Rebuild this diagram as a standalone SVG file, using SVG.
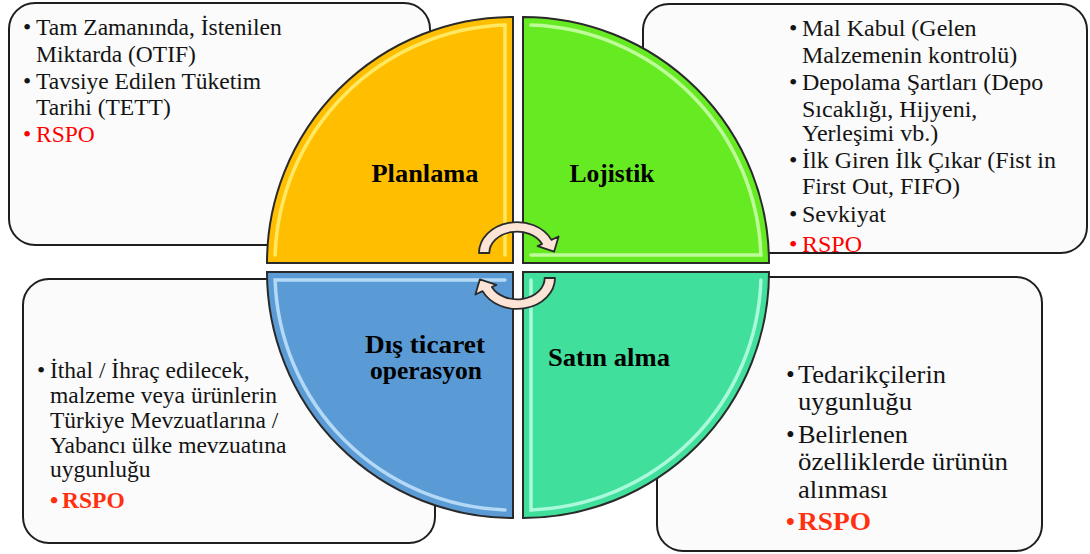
<svg xmlns="http://www.w3.org/2000/svg" width="1090" height="554" viewBox="0 0 1090 554">
<style>
.box{fill:#fbfbfb;stroke:#1e1e1e;stroke-width:2}
.q{stroke:#2a2a2a;stroke-width:2}
.hl{fill:none;stroke-width:3.5;opacity:0.8;stroke-linecap:round}
text{font-family:'Liberation Serif','DejaVu Serif',serif}
.t{font-size:23.5px;fill:#141414}
.t2{font-size:24px;fill:#141414}
.tb{font-size:25px;fill:#141414}
.red{fill:#ff0000}
.red2{fill:#ff3010;font-weight:bold}
.title{font-size:25px;font-weight:bold;fill:#000;text-anchor:middle}
.arr{fill:#fce4d6;stroke:#2a2a2a;stroke-width:1.8;stroke-linejoin:round}
</style>
<rect width="1090" height="554" fill="#ffffff"/>

<g id="box-planlama">
<rect class="box" x="9" y="3" width="421" height="242" rx="26"/>
<text class="t" x="23" y="35">•</text><text class="t" x="36" y="35">Tam Zamanında, İstenilen</text>
<text class="t" x="36" y="62">Miktarda (OTIF)</text>
<text class="t" x="23" y="89">•</text><text class="t" x="36" y="89">Tavsiye Edilen Tüketim</text>
<text class="t" x="36" y="115">Tarihi (TETT)</text>
<text class="t red" x="23" y="142">•</text><text class="t red" x="36" y="142">RSPO</text>
</g>

<g id="box-lojistik">
<rect class="box" x="643" y="4" width="444" height="249" rx="26"/>
<text class="t2" x="789" y="36">•</text><text class="t2" x="802" y="36">Mal Kabul (Gelen</text>
<text class="t2" x="802" y="63">Malzemenin kontrolü)</text>
<text class="t2" x="789" y="90">•</text><text class="t2" x="802" y="90">Depolama Şartları (Depo</text>
<text class="t2" x="802" y="117">Sıcaklığı, Hijyeni,</text>
<text class="t2" x="802" y="141">Yerleşimi vb.)</text>
<text class="t2" x="789" y="168">•</text><text class="t2" x="802" y="168">İlk Giren İlk Çıkar (Fist in</text>
<text class="t2" x="802" y="194">First Out, FIFO)</text>
<text class="t2" x="789" y="222">•</text><text class="t2" x="802" y="222">Sevkiyat</text>
<text class="t2 red" x="789" y="252">•</text><text class="t2 red" x="802" y="252">RSPO</text>
</g>

<g id="box-dis-ticaret">
<rect class="box" x="23" y="279" width="412" height="264" rx="26"/>
<text class="t" x="37" y="378">•</text><text class="t" x="50" y="378">İthal / İhraç edilecek,</text>
<text class="t" x="50" y="403">malzeme veya ürünlerin</text>
<text class="t" x="50" y="428">Türkiye Mevzuatlarına /</text>
<text class="t" x="50" y="453">Yabancı ülke mevzuatına</text>
<text class="t" x="50" y="477">uygunluğu</text>
<text class="t red2" x="50" y="508">•</text><text class="t red2" x="62" y="508">RSPO</text>
</g>

<g id="box-satin-alma">
<rect class="box" x="657" y="277" width="385" height="274" rx="26"/>
<text class="tb" x="786" y="383">•</text><text class="tb" x="798" y="383" textLength="148" lengthAdjust="spacingAndGlyphs">Tedarikçilerin</text>
<text class="tb" x="798" y="410" textLength="114" lengthAdjust="spacingAndGlyphs">uygunluğu</text>
<text class="tb" x="786" y="443">•</text><text class="tb" x="798" y="443" textLength="110" lengthAdjust="spacingAndGlyphs">Belirlenen</text>
<text class="tb" x="798" y="470" textLength="210" lengthAdjust="spacingAndGlyphs">özelliklerde ürünün</text>
<text class="tb" x="798" y="498" textLength="90" lengthAdjust="spacingAndGlyphs">alınması</text>
<text class="tb red2" x="786" y="530">•</text><text class="tb red2" x="798" y="530" textLength="73" lengthAdjust="spacingAndGlyphs">RSPO</text>
</g>

<g id="node-planlama">
<path class="q" fill="#ffbf00" d="M513,263 L267,263 A246,246 0 0 1 513,17 Z"/>
<path class="hl" stroke="#fff27a" d="M275.1,255 A238,238 0 0 1 505,25.1 L505,255"/>
<text class="title" x="425" y="182" textLength="107" lengthAdjust="spacingAndGlyphs">Planlama</text>
</g>
<g id="node-lojistik">
<path class="q" fill="#66eb22" d="M523,263 L523,17 A246,246 0 0 1 769,263 Z"/>
<path class="hl" stroke="#d4ffb8" d="M531,25.1 A238,238 0 0 1 760.9,255 L531,255"/>
<text class="title" x="612" y="182" textLength="85" lengthAdjust="spacingAndGlyphs">Lojistik</text>
</g>
<g id="node-dis-ticaret">
<path class="q" fill="#5b9bd5" d="M513,272 L513,518 A246,246 0 0 1 267,272 Z"/>
<path class="hl" stroke="#cbe9ff" d="M505,509.9 A238,238 0 0 1 275.1,280 L505,280"/>
<text class="title" x="425" y="353" textLength="120" lengthAdjust="spacingAndGlyphs">Dış ticaret</text>
<text class="title" x="426" y="379" textLength="112" lengthAdjust="spacingAndGlyphs">operasyon</text>
</g>
<g id="node-satin-alma">
<path class="q" fill="#40e09c" d="M523,272 L769,272 A246,246 0 0 1 523,518 Z"/>
<path class="hl" stroke="#c4ffea" d="M760.9,280 A238,238 0 0 1 531,509.9 L531,280"/>
<text class="title" x="609" y="366" textLength="122" lengthAdjust="spacingAndGlyphs">Satın alma</text>
</g>

<g id="connectors">
<path class="arr" d="M479,253 A38,31 0 0 1 551.4,239.9 L558.6,236.5 L554.1,251.7 L537.6,246.1 L542.1,244 A27.7,21.3 0 0 0 489.3,253 Z"/>
<path class="arr" transform="rotate(180 517 265.5)" d="M479,253 A38,31 0 0 1 551.4,239.9 L558.6,236.5 L554.1,251.7 L537.6,246.1 L542.1,244 A27.7,21.3 0 0 0 489.3,253 Z"/>
</g>
</svg>
